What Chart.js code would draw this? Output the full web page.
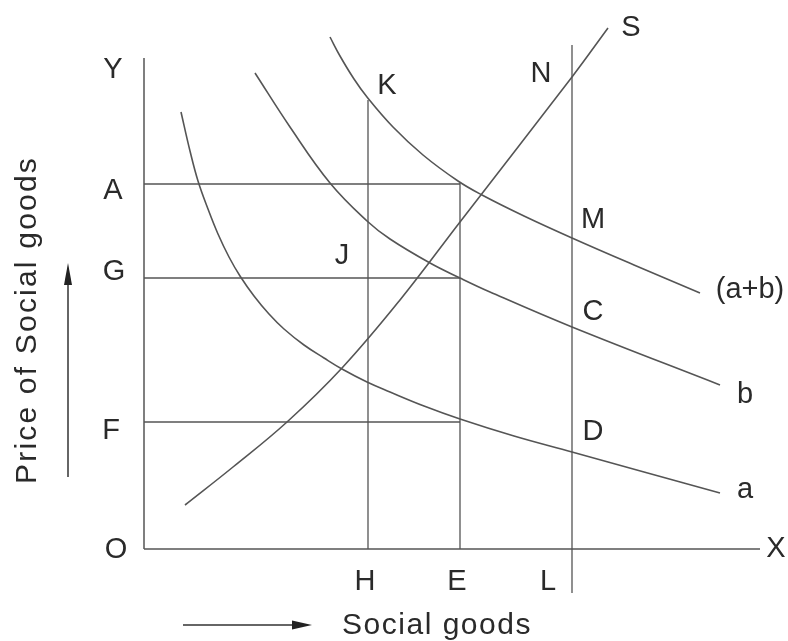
<!DOCTYPE html>
<html>
<head>
<meta charset="utf-8">
<script src="https://cdn.jsdelivr.net/npm/chart.js"></script>
<style>
html,body{margin:0;padding:0;background:#fff;}
#wrap{width:788px;height:641px;position:relative;}
</style>
</head>
<body>
<div id="wrap"><canvas id="c"></canvas></div>
<script>
// Curves (quantity x, price y), origin at O
const curveA  = [[37,437],[46,398],[54,368],[64,340],[74,315],[85,292],[96,273],[110,253],[125,235],[140,220],[160,204],[180,191],[198,180],[223,167],[246,157],[280,143],[316,130],[370,113],[428,97],[500,77],[576,56]];
const curveB  = [[111,476],[146,422],[186,366],[223,328],[246,310],[286,286],[316,271],[346,257],[428,222],[576,164]];
const curveAB = [[186,512],[196,493],[210,470],[223,452],[249,422],[279,394],[314,368],[338,354],[380,333],[428,311],[490,284],[556,256]];
const curveS  = [[41,44],[89,82],[143,127],[198,181],[256,249],[316,327],[428,472],[464,521]];
// Guide lines
const qtyH = 224, qtyE = 316, qtyL = 428;
const priceA = 365, priceG = 271, priceF = 127;
const guideTopH = 449, guideTopE = 366, guideTopL = 504, guideBottomL = -44;
const axisYTop = 491, axisXEnd = 616;
// Point labels
const labelTexts = ["Y","A","G","F","O","K","J","N","S","M","(a+b)","C","b","D","a","H","E","L","X"];
const labelX     = [-31,-31,-30,-33,-28,243,198,397,487,449,606,449,601,449,601,221,313,404,632];
const labelY     = [479,358,277,118,-1,463,293,475,521,329,259,237,154,117,59,-33,-33,-33,0];
const xTitle = "Social goods";
const yTitle = "Price of Social goods";

const pts = a => a.map(p => ({x:p[0], y:p[1]}));
const seg = (x1,y1,x2,y2) => [{x:x1,y:y1},{x:x2,y:y2}];
const lineCol = '#555';

function curveDs(d){
  return {data:pts(d), showLine:true, borderColor:lineCol, borderWidth:1.6, pointRadius:0, fill:false, tension:0.4};
}
function segDs(d, w){
  return {data:d, showLine:true, borderColor:lineCol, borderWidth:w||1.3, pointRadius:0, fill:false, tension:0};
}

const datasets = [
  segDs(seg(0,axisYTop,0,0),1.5),
  segDs(seg(0,0,axisXEnd,0),1.5),
  segDs(seg(qtyH,guideTopH,qtyH,0)),
  segDs(seg(qtyE,guideTopE,qtyE,0)),
  segDs(seg(qtyL,guideTopL,qtyL,guideBottomL)),
  segDs(seg(0,priceA,qtyE,priceA)),
  segDs(seg(0,priceG,qtyE,priceG)),
  segDs(seg(0,priceF,qtyE,priceF)),
  curveDs(curveA), curveDs(curveB), curveDs(curveAB), curveDs(curveS)
];

const labelPlugin = {
  id:'labels',
  afterDatasetsDraw(chart){
    const ctx = chart.ctx, xs = chart.scales.x, ys = chart.scales.y;
    ctx.save();
    ctx.fillStyle = '#2a2a2a';
    ctx.textAlign = 'center';
    ctx.textBaseline = 'middle';
    ctx.font = '29px "Liberation Sans", Arial, sans-serif';
    for (let i=0;i<labelTexts.length;i++){
      ctx.fillText(labelTexts[i], xs.getPixelForValue(labelX[i]), ys.getPixelForValue(labelY[i]));
    }
    // x title
    ctx.font = '30px "Liberation Sans", Arial, sans-serif';
    try{ ctx.letterSpacing = '1.5px'; }catch(e){}
    ctx.fillText(xTitle, xs.getPixelForValue(293), ys.getPixelForValue(-77));
    // y title rotated
    ctx.save();
    ctx.translate(xs.getPixelForValue(-116), ys.getPixelForValue(229));
    ctx.rotate(-Math.PI/2);
    try{ ctx.letterSpacing = '2.2px'; }catch(e){}
    ctx.fillText(yTitle, 0, 0);
    ctx.restore();
    try{ ctx.letterSpacing = '0px'; }catch(e){}
    // arrows
    ctx.strokeStyle = '#333'; ctx.fillStyle = '#222'; ctx.lineWidth = 1.5;
    const ux = xs.getPixelForValue(-76), uy0 = ys.getPixelForValue(72), uy1 = ys.getPixelForValue(286);
    ctx.beginPath(); ctx.moveTo(ux,uy0); ctx.lineTo(ux,uy1+18); ctx.stroke();
    ctx.beginPath(); ctx.moveTo(ux,uy1); ctx.lineTo(ux-4,uy1+22); ctx.lineTo(ux+4,uy1+22); ctx.closePath(); ctx.fill();
    const ry = ys.getPixelForValue(-76), rx0 = xs.getPixelForValue(39), rx1 = xs.getPixelForValue(168);
    ctx.beginPath(); ctx.moveTo(rx0,ry); ctx.lineTo(rx1-18,ry); ctx.stroke();
    ctx.beginPath(); ctx.moveTo(rx1,ry); ctx.lineTo(rx1-20,ry-4.5); ctx.lineTo(rx1-20,ry+4.5); ctx.closePath(); ctx.fill();
    ctx.restore();
  }
};

new Chart(document.getElementById('c'), {
  type:'scatter',
  data:{datasets},
  options:{
    responsive:true, maintainAspectRatio:false, animation:false,
    layout:{padding:0},
    plugins:{legend:{display:false}, tooltip:{enabled:false}},
    scales:{
      x:{type:'linear', min:-144, max:644, display:false},
      y:{type:'linear', min:-92, max:549, display:false}
    }
  },
  plugins:[labelPlugin]
});
</script>
</body>
</html>
